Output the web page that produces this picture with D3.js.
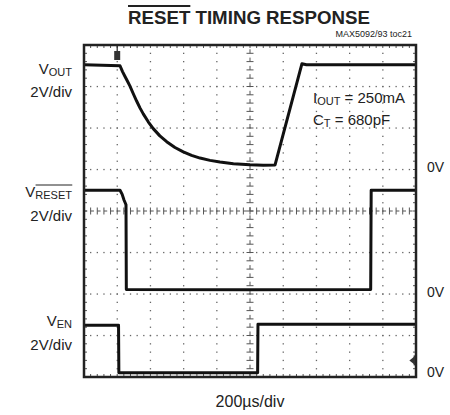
<!DOCTYPE html>
<html><head><meta charset="utf-8">
<script src="https://cdn.jsdelivr.net/npm/d3@7"></script>
<style>
html,body{margin:0;padding:0;background:#fff;}
text{font-family:"Liberation Sans",Arial,sans-serif;fill:#222;}
</style></head>
<body><svg id="c" width="450" height="415"></svg>
<script>
// ---- data (time in µs, voltage in V) ----
const timeDomain = [0, 2000];          // 10 div x 200µs/div
const xDivisions = [0,1,2,3,4,5,6,7,8,9,10];
const yDivisions = [0,1,2,3,4,5,6,7,8];
const voutTime  = [0, 217, 232, 247, 262, 277, 297, 317, 337, 357, 387, 417, 457, 498, 548, 598, 648, 699, 759, 819, 900, 1000, 1080, 1151, 1313, 1340, 2000];
const voutVolt  = [5.05, 5.0, 4.72, 4.48, 4.25, 4.02, 3.65, 3.3, 2.97, 2.68, 2.3, 1.97, 1.62, 1.34, 1.06, 0.85, 0.68, 0.55, 0.44, 0.36, 0.28, 0.23, 0.21, 0.22, 5.1, 5.05, 5.05];
const resetTime = [0, 217, 230, 241, 253, 255, 1000, 1727, 1730, 2000];
const resetVolt = [5.0, 5.0, 4.8, 4.53, 4.3, 0.22, 0.2, 0.22, 5.0, 5.0];
const enTime    = [0, 208, 210, 1000, 1046, 1048, 2000];
const enVolt    = [2.5, 2.5, 0.2, 0.2, 0.2, 2.54, 2.54];
const channelOffsetDiv = {vout: 5, reset: 2, en: 0};   // 0V reference division
const voltsPerDiv = 2;

const svg = d3.select("#c");
const x = d3.scaleLinear().domain(timeDomain).range([84, 416]);
const yd = d3.scaleLinear().domain([0, 8]).range([377, 45]);
const xd = d3.scaleLinear().domain([0, 10]).range([84, 416]);

// ---- grid ----
const g = svg.append("g");
const dotCol = "#666";
xDivisions.slice(1, -1).forEach(i => {
  if (i === 5) return;
  d3.range(1, 40).forEach(k => {
    g.append("rect").attr("x", xd(i) - 0.6).attr("y", yd(k / 5) - 0.6)
      .attr("width", 1.3).attr("height", 1.3).attr("fill", dotCol);
  });
});
yDivisions.slice(1, -1).forEach(j => {
  if (j === 4) return;
  d3.range(1, 50).forEach(k => {
    g.append("rect").attr("x", xd(k / 5) - 0.6).attr("y", yd(j) - 0.6)
      .attr("width", 1.3).attr("height", 1.3).attr("fill", dotCol);
  });
});
d3.range(0, 50).forEach(k => {
  g.append("line").attr("x1", xd(k / 5)).attr("x2", xd(k / 5) + 3.3)
    .attr("y1", yd(4)).attr("y2", yd(4)).attr("stroke", "#555").attr("stroke-width", 1);
});
d3.range(1, 50).forEach(k => {
  g.append("line").attr("x1", xd(k / 5)).attr("x2", xd(k / 5))
    .attr("y1", yd(4) - 3.5).attr("y2", yd(4) + 3.5).attr("stroke", "#555").attr("stroke-width", 1);
});
d3.range(0, 40).forEach(k => {
  g.append("line").attr("x1", xd(5)).attr("x2", xd(5))
    .attr("y1", yd(k / 5)).attr("y2", yd(k / 5) - 4).attr("stroke", "#555").attr("stroke-width", 1);
});
d3.range(1, 40).forEach(k => {
  g.append("line").attr("x1", xd(5) - 3.5).attr("x2", xd(5) + 3.5)
    .attr("y1", yd(k / 5)).attr("y2", yd(k / 5)).attr("stroke", "#555").attr("stroke-width", 1);
});
d3.range(1, 50).forEach(k => {
  [[yd(8), 3], [yd(0), -3]].forEach(([yy, d]) => {
    g.append("line").attr("x1", xd(k / 5)).attr("x2", xd(k / 5))
      .attr("y1", yy).attr("y2", yy + d).attr("stroke", "#555").attr("stroke-width", 1);
  });
});
d3.range(1, 40).forEach(k => {
  [[xd(0), 3], [xd(10), -3]].forEach(([xx, d]) => {
    g.append("line").attr("x1", xx).attr("x2", xx + d)
      .attr("y1", yd(k / 5)).attr("y2", yd(k / 5)).attr("stroke", "#555").attr("stroke-width", 1);
  });
});

// ---- traces ----
function trace(ts, vs, off) {
  const pts = ts.map((t, i) => [x(t), yd(off + vs[i] / voltsPerDiv)]);
  svg.append("path").attr("d", d3.line()(pts)).attr("fill", "none")
    .attr("stroke", "#111").attr("stroke-width", 3).attr("stroke-linejoin", "round");
}
trace(voutTime, voutVolt, channelOffsetDiv.vout);
trace(resetTime, resetVolt, channelOffsetDiv.reset);
trace(enTime, enVolt, channelOffsetDiv.en);

// ---- frame ----
svg.append("rect").attr("x", 84).attr("y", 45).attr("width", 332).attr("height", 332)
  .attr("fill", "none").attr("stroke", "#222").attr("stroke-width", 2.5);

// trigger position marker
svg.append("line").attr("x1", x(200)).attr("x2", x(200)).attr("y1", 45).attr("y2", 51)
  .attr("stroke", "#222").attr("stroke-width", 1.2);
svg.append("rect").attr("x", x(200) - 3).attr("y", 51).attr("width", 6).attr("height", 9)
  .attr("fill", "#333");
// trigger level marker
svg.append("path").attr("d", `M${x(1960)},${yd(0.4)} l5,-4 v8 z`).attr("fill", "#333");
svg.append("line").attr("x1", x(1960) + 5).attr("x2", x(1960) + 5).attr("y1", yd(0.4) - 5).attr("y2", yd(0.4) + 5)
  .attr("stroke", "#333").attr("stroke-width", 1.5);

// ---- text ----
const title = svg.append("text").attr("x", 249).attr("y", 24).attr("text-anchor", "middle")
  .attr("font-size", 19).attr("font-weight", "bold")
  .attr("textLength", 242).attr("lengthAdjust", "spacingAndGlyphs")
  .text("RESET TIMING RESPONSE");
{
  const n = title.node();
  const a = n.getExtentOfChar(0), b = n.getExtentOfChar(4);
  svg.append("line").attr("x1", a.x).attr("x2", b.x + b.width).attr("y1", 6).attr("y2", 6)
    .attr("stroke", "#222").attr("stroke-width", 1.8);
}
svg.append("text").attr("x", 412).attr("y", 37).attr("text-anchor", "end")
  .attr("font-size", 9).text("MAX5092/93 toc21");

function chanLabel(sub, yBase, over) {
  const t = svg.append("text").attr("x", 72).attr("y", yBase).attr("text-anchor", "end").attr("font-size", 15);
  t.append("tspan").text("V");
  const s = t.append("tspan").attr("font-size", 11).attr("dy", 2).text(sub);
  if (over) {
    const bb = t.node().getBBox();
    const len = s.node().getComputedTextLength();
    svg.append("line").attr("x1", bb.x + bb.width - len).attr("x2", bb.x + bb.width)
      .attr("y1", yBase - 12).attr("y2", yBase - 12).attr("stroke", "#222").attr("stroke-width", 1);
  }
}
chanLabel("OUT", 74, false);
chanLabel("RESET", 197, true);
chanLabel("EN", 326, false);
[[97, "2V/div"], [221, "2V/div"], [350, "2V/div"]].forEach(([yy, s]) => {
  svg.append("text").attr("x", 72).attr("y", yy).attr("text-anchor", "end").attr("font-size", 15).text(s);
});

function subText(yBase, main, sub, rest) {
  const t = svg.append("text").attr("x", 313).attr("y", yBase).attr("font-size", 15);
  t.append("tspan").text(main);
  t.append("tspan").attr("font-size", 11).attr("dy", 2).text(sub);
  t.append("tspan").attr("dy", -2).text(rest);
}
subText(103, "I", "OUT", " = 250mA");
subText(125, "C", "T", " = 680pF");

[[172], [297], [377]].forEach(([yy]) => {
  svg.append("text").attr("x", 427).attr("y", yy).attr("font-size", 14).text("0V");
});
svg.append("text").attr("x", 250).attr("y", 407).attr("text-anchor", "middle").attr("font-size", 16)
  .text("200µs/div");
</script></body></html>
